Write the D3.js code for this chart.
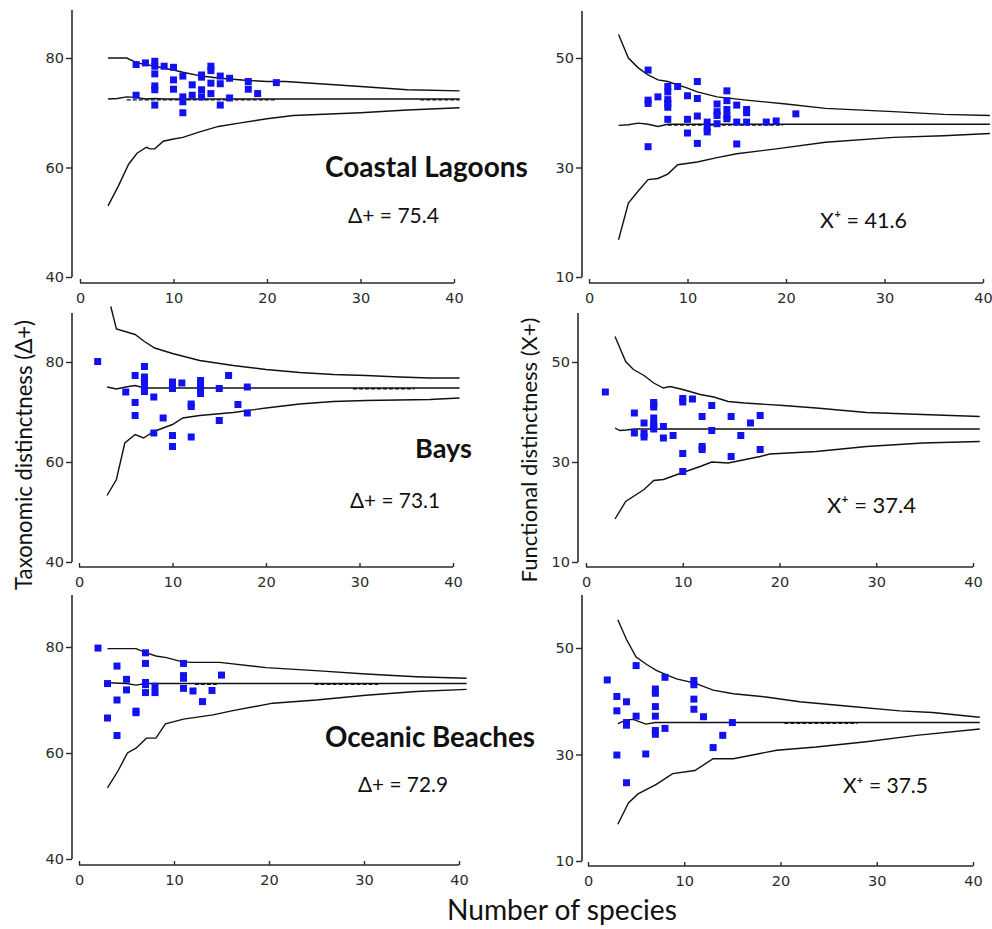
<!DOCTYPE html>
<html>
<head>
<meta charset="utf-8">
<script src="https://cdn.jsdelivr.net/npm/d3@7"></script>
<style>
  body { margin: 0; background: #fff; }
  svg { display: block; }
</style>
</head>
<body>
<svg id="chart" width="992" height="929"></svg>
<script>
// ---------------- DATA ----------------
const xTicks = [0, 10, 20, 30, 40];
const taxTicks = [40, 60, 80];
const funTicks = [10, 30, 50];

// Coastal Lagoons – taxonomic
const lagTaxPoints = [[6,78.8],[6,73.2],[7,79.1],[8,79.4],[8,78.5],[8,77.1],[8,74.9],[8,74.2],[8,71.4],[9,78.5],[10,78.3],[10,76.0],[10,74.3],[11,76.7],[11,72.9],[11,72.0],[11,70.0],[12,75.1],[12,73.2],[13,76.9],[13,76.5],[13,74.2],[13,72.9],[14,78.5],[14,77.7],[14,75.4],[14,73.5],[15,76.7],[15,75.3],[15,71.4],[16,76.3],[16,72.7],[18,75.7],[18,74.3],[19,73.5],[21,75.5]];
const lagTaxUpper = [[3,80],[5,80],[6.1,79.1],[8,78.5],[10,77.8],[11,77.4],[13,76.7],[15,76.3],[18,75.9],[20,75.7],[22,75.7],[30,74.8],[35,74.2],[40.6,74.0]];
const lagTaxMean = [[3,72.5],[4,72.6],[5,72.9],[6,72.8],[7,72.5],[8,72.6],[9,72.5],[40.6,72.5]];
const lagTaxLower = [[3,53.0],[4.1,56.6],[5.2,60.6],[6.1,62.6],[7.1,63.7],[7.5,63.4],[8,63.4],[8.9,64.8],[10,65.2],[11,65.5],[12.8,66.5],[14.8,67.5],[17,68.1],[20,68.9],[22.8,69.5],[30,70.0],[35,70.5],[40.6,70.9]];
const lagTaxDashed = [[5,21,72.5],[36.4,40.6,72.5]];

// Coastal Lagoons – functional
const lagFunPoints = [[6,47.8],[6,42.3],[6,41.7],[6,33.8],[7,42.9],[8,44.8],[8,43.8],[8,42.4],[8,41.7],[8,41.0],[8,38.8],[9,44.8],[10,43.1],[10,38.8],[10,36.3],[11,45.7],[11,42.6],[11,39.4],[11,34.4],[12,38.3],[12,37.2],[12,36.5],[13,41.6],[13,40.2],[13,39.5],[13,38.0],[14,44.0],[14,42.2],[14,40.6],[14,39.4],[14,38.9],[15,41.4],[15,38.3],[15,34.3],[16,40.6],[16,40.0],[16,38.3],[18,38.3],[19,38.5],[21,39.8]];
const lagFunUpper = [[3,54.3],[4,50.0],[5,48.2],[6,46.9],[7,46.0],[8,45.7],[9,45.1],[10,44.5],[11,43.8],[13,42.9],[16,42.3],[20,41.6],[24,40.8],[30.9,40.2],[36,39.7],[40.7,39.5]];
const lagFunMean = [[3,37.7],[4,37.8],[5,38.1],[6,37.9],[7,37.5],[8,37.9],[40.7,37.9]];
const lagFunLower = [[3,16.8],[4,23.5],[5,25.7],[6,27.8],[7,28.0],[8,28.8],[9,30.5],[11,31.0],[13,31.8],[15,32.5],[19,33.4],[24,34.6],[30.9,35.5],[36,35.8],[40.7,36.2]];
const lagFunDashed = [[8,19.7,37.9]];

// Bays – taxonomic
const bayTaxPoints = [[2,80.1],[5,74.0],[6,77.3],[6,71.9],[6,69.3],[7,79.1],[7,77.0],[7,76.5],[7,75.9],[7,74.5],[7,74.1],[8,73.0],[8,65.8],[9,68.8],[10,76.0],[10,74.7],[10,65.3],[10,63.1],[11,75.8],[12,71.6],[12,71.1],[12,65.0],[13,76.3],[13,74.9],[13,73.7],[15,74.7],[15,68.3],[16,77.3],[17,71.5],[18,75.0],[18,69.8]];
const bayTaxUpper = [[3.4,91.1],[4,86.6],[6,85.5],[7,84.1],[8.1,82.8],[10,81.7],[12.9,80.3],[16.5,79.3],[20,78.5],[23.6,77.9],[27.2,77.5],[30.7,77.3],[34.3,77.0],[37.5,76.8],[40.7,76.8]];
const bayTaxMean = [[3,75.0],[4,74.6],[5,75.0],[6,75.3],[7,74.8],[40.7,74.8]];
const bayTaxLower = [[3,53.3],[4,56.5],[4.9,63.8],[6,65.5],[6.9,64.8],[8,66.1],[9,66.8],[10,67.5],[11.1,68.8],[12.9,69.3],[16.5,69.9],[20,70.8],[23.6,71.6],[27.2,72.1],[30.7,72.3],[37.5,72.5],[40.7,72.8]];
const bayTaxDashed = [[29.3,35.9,74.8]];

// Bays – functional
const bayFunPoints = [[2,44.0],[5,39.8],[5,35.8],[6,37.8],[6,35.7],[6,35.0],[7,41.9],[7,41.5],[7,41.0],[7,38.8],[7,37.6],[7,37.1],[7,36.6],[8,37.1],[8,34.8],[9,35.3],[10,42.7],[10,42.0],[10,31.7],[10,28.1],[11,42.6],[12,39.1],[12,33.1],[12,32.5],[13,41.3],[13,36.3],[15,39.1],[15,31.1],[16,35.3],[17,37.8],[18,39.3],[18,32.5]];
const bayFunUpper = [[3,55.1],[4.1,50.1],[4.9,48.5],[6,47.3],[7,45.8],[8,44.8],[8.7,45.1],[10,44.5],[11.8,43.5],[13.2,43.0],[14.7,42.1],[16.4,41.8],[20.4,41.3],[23.8,40.8],[29,39.9],[34.8,39.5],[40.7,39.1]];
const bayFunMean = [[3,36.8],[3.5,36.3],[4.2,36.4],[5,36.6],[40.7,36.6]];
const bayFunLower = [[3,18.6],[4.1,22.1],[6,24.5],[7,26.3],[8,26.5],[10,27.9],[11.8,29.1],[13,30.0],[14.7,29.8],[18,31.1],[19,31.6],[23.8,32.1],[29,33.1],[34.8,33.8],[40.7,34.1]];
const bayFunDashed = [];

// Oceanic Beaches – taxonomic
const oceTaxPoints = [[2,79.8],[3,73.1],[3,66.6],[4,76.4],[4,70.0],[4,63.3],[5,73.9],[5,71.9],[6,67.9],[6,67.6],[7,78.9],[7,76.9],[7,73.3],[7,72.9],[7,71.4],[8,72.6],[8,71.4],[11,76.9],[11,74.6],[11,74.1],[11,72.2],[12,71.7],[13,69.7],[14,71.8],[15,74.7]];
const oceTaxUpper = [[3,79.7],[6,79.7],[7.1,78.9],[8.1,78.3],[9.2,78.0],[10.9,77.2],[12,77.1],[14.8,77.1],[19.7,76.1],[25.3,75.5],[30.2,74.9],[35.5,74.4],[40.8,74.1]];
const oceTaxMean = [[3,73.25],[5,73.1],[6,72.8],[7,73.1],[40.8,73.1]];
const oceTaxLower = [[3,53.4],[4.1,56.6],[5.1,60.0],[6,60.9],[7.1,62.8],[8.1,62.8],[9.1,65.5],[11,66.4],[14.1,67.2],[16.2,68.0],[20.4,69.4],[25,70.0],[30.2,70.9],[35.5,71.6],[40.8,72.0]];
const oceTaxDashed = [[12.2,14.6,73.1],[24.8,31.5,73.1]];

// Oceanic Beaches – functional
const oceFunPoints = [[2,44.0],[3,40.9],[3,38.2],[3,29.9],[4,39.9],[4,36.0],[4,35.5],[4,24.7],[5,46.7],[5,37.2],[6,30.1],[7,42.3],[7,41.5],[7,39.0],[7,37.2],[7,34.5],[7,33.8],[8,44.5],[8,34.9],[11,43.9],[11,43.1],[11,40.4],[11,38.5],[12,37.1],[13,31.3],[14,33.6],[15,36.0]];
const oceFunUpper = [[3.1,55.3],[4,51.6],[5,48.3],[6.1,46.9],[7.1,45.8],[8.1,45.0],[9.2,44.2],[11.1,43.4],[13,42.1],[15.1,41.4],[18.5,40.8],[22,39.9],[26.8,39.1],[32.4,38.2],[35.8,37.9],[40.7,37.0]];
const oceFunMean = [[3.1,35.8],[4,36.5],[4.7,36.6],[6,35.7],[7,36.0],[40.7,36.0]];
const oceFunLower = [[3.1,16.9],[4.2,20.9],[5.2,22.6],[7.1,24.4],[8.8,26.4],[11.1,27.0],[13,29.2],[15.1,29.2],[19.6,30.8],[23.7,31.4],[28.9,32.4],[34.1,33.6],[40.7,34.8]];
const oceFunDashed = [[20.4,28,36.0]];

const habitatNames = ["Coastal Lagoons", "Bays", "Oceanic Beaches"];
const taxLabels = ["Δ+ = 75.4", "Δ+ = 73.1", "Δ+ = 72.9"];
const funLabels = ["X⁺ = 41.6", "X⁺ = 37.4", "X⁺ = 37.5"];
const yTitleLeft = "Taxonomic distinctness (Δ+)";
const yTitleRight = "Functional distinctness (X+)";
const xTitle = "Number of species";

// ---------------- LAYOUT ----------------
const panels = [
  {pts: lagTaxPoints, up: lagTaxUpper, mean: lagTaxMean, low: lagTaxLower, dash: lagTaxDashed, ticks: taxTicks,
   x0: 80, x40: 454, ax: 72, yLo: 277, yHi: 58, top: 10, xAxisY: 283},
  {pts: lagFunPoints, up: lagFunUpper, mean: lagFunMean, low: lagFunLower, dash: lagFunDashed, ticks: funTicks,
   x0: 589, x40: 983, ax: 582, yLo: 277, yHi: 58, top: 11, xAxisY: 283},
  {pts: bayTaxPoints, up: bayTaxUpper, mean: bayTaxMean, low: bayTaxLower, dash: bayTaxDashed, ticks: taxTicks,
   x0: 79, x40: 453, ax: 72, yLo: 562, yHi: 362, top: 313, xAxisY: 567},
  {pts: bayFunPoints, up: bayFunUpper, mean: bayFunMean, low: bayFunLower, dash: bayFunDashed, ticks: funTicks,
   x0: 586, x40: 973, ax: 578, yLo: 562, yHi: 362, top: 313, xAxisY: 567},
  {pts: oceTaxPoints, up: oceTaxUpper, mean: oceTaxMean, low: oceTaxLower, dash: oceTaxDashed, ticks: taxTicks,
   x0: 79, x40: 459, ax: 72, yLo: 859, yHi: 647, top: 595, xAxisY: 865},
  {pts: oceFunPoints, up: oceFunUpper, mean: oceFunMean, low: oceFunLower, dash: oceFunDashed, ticks: funTicks,
   x0: 588, x40: 973, ax: 582, yLo: 861, yHi: 648, top: 595, xAxisY: 866}
];

const svg = d3.select("#chart");
const axisColor = "#2a2a2a";
const tickFont = "'DejaVu Sans', Verdana, sans-serif";
const txtFont = "Lato, 'Open Sans', sans-serif";

panels.forEach(p => {
  const x = d3.scaleLinear().domain([0, 40]).range([p.x0, p.x40]);
  const y = d3.scaleLinear().domain([p.ticks[0], p.ticks[2]]).range([p.yLo, p.yHi]);
  const g = svg.append("g");

  // y axis
  const yAxis = d3.axisLeft(y).tickValues(p.ticks).tickSize(6).tickSizeOuter(0).tickPadding(2);
  const ya = g.append("g").attr("transform", `translate(${p.ax},0)`).call(yAxis);
  ya.select(".domain").remove();
  ya.append("line").attr("x1", 0).attr("x2", 0).attr("y1", p.top).attr("y2", p.yLo)
    .attr("stroke", axisColor).attr("stroke-width", 1.6);

  // x axis (ticks pointing up)
  const xAxis = d3.axisBottom(x).tickValues(xTicks).tickSize(-4).tickSizeOuter(0).tickPadding(6);
  const xa = g.append("g").attr("transform", `translate(0,${p.xAxisY})`).call(xAxis);
  xa.select(".domain").remove();
  xa.append("line").attr("x1", p.x0).attr("x2", p.x40).attr("y1", 0).attr("y2", 0)
    .attr("stroke", axisColor).attr("stroke-width", 1.6);
  xa.selectAll(".tick text").attr("dy", "0.95em");

  [ya, xa].forEach(a => {
    a.selectAll(".tick line").attr("stroke", axisColor).attr("stroke-width", 1.4);
    a.selectAll(".tick text").attr("fill", "#2b2b2b")
      .style("font-family", tickFont).style("font-size", "14.5px");
  });

  // curves
  const line = d3.line().x(d => x(d[0])).y(d => y(d[1]));
  [p.up, p.mean, p.low].forEach(s => {
    g.append("path").datum(s).attr("d", line)
      .attr("fill", "none").attr("stroke", "#111").attr("stroke-width", 1.4);
  });
  // thicker dashed overlap on mean line
  g.selectAll("line.dash").data(p.dash).enter().append("line").attr("class", "dash")
    .attr("x1", d => x(d[0])).attr("x2", d => x(d[1]))
    .attr("y1", d => y(d[2]) + 0.8).attr("y2", d => y(d[2]) + 0.8)
    .attr("stroke", "#111").attr("stroke-width", 1.4).attr("stroke-dasharray", "4,2");

  // points
  const sz = 7;
  g.selectAll("rect.pt").data(p.pts).enter().append("rect").attr("class", "pt")
    .attr("x", d => x(d[0]) - sz / 2).attr("y", d => y(d[1]) - sz / 2)
    .attr("width", sz).attr("height", sz).attr("fill", "#1212f0");
});

// --------------- TEXT ----------------
function fitText(sel, width) {
  const base = parseFloat(sel.style("font-size"));
  const w = sel.node().getComputedTextLength();
  sel.style("font-size", (base * width / w).toFixed(2) + "px");
}

const habPos = [{x: 325, y: 177, w: 203}, {x: 415, y: 458, w: 57}, {x: 325, y: 747, w: 210}];
habitatNames.forEach((t, i) => {
  const s = svg.append("text").attr("x", habPos[i].x).attr("y", habPos[i].y).text(t)
    .style("font-family", txtFont).style("font-weight", "bold").style("font-size", "24px").attr("fill", "#111");
  fitText(s, habPos[i].w);
});

const taxPos = [{x: 348, y: 223, w: 91}, {x: 350, y: 508, w: 90}, {x: 358, y: 792, w: 90}];
taxLabels.forEach((t, i) => {
  const s = svg.append("text").attr("x", taxPos[i].x).attr("y", taxPos[i].y).text(t)
    .style("font-family", txtFont).style("font-size", "19px").attr("fill", "#111");
  fitText(s, taxPos[i].w);
});

const funPos = [{x: 820, y: 228, w: 87}, {x: 827, y: 513, w: 89}, {x: 843, y: 793, w: 85}];
funLabels.forEach((t, i) => {
  const s = svg.append("text").attr("x", funPos[i].x).attr("y", funPos[i].y).text(t)
    .style("font-family", txtFont).style("font-size", "19px").attr("fill", "#111");
  fitText(s, funPos[i].w);
});

const yl = svg.append("text").attr("transform", "translate(32,455) rotate(-90)")
  .attr("text-anchor", "middle").text(yTitleLeft)
  .style("font-family", txtFont).style("font-size", "19px").attr("fill", "#111");
fitText(yl, 270);

const yr = svg.append("text").attr("transform", "translate(537,450) rotate(-90)")
  .attr("text-anchor", "middle").text(yTitleRight)
  .style("font-family", txtFont).style("font-size", "19px").attr("fill", "#111");
fitText(yr, 265);

const xt = svg.append("text").attr("x", 447).attr("y", 920).text(xTitle)
  .style("font-family", txtFont).style("font-size", "22px").attr("fill", "#111");
fitText(xt, 230);
</script>
</body>
</html>
